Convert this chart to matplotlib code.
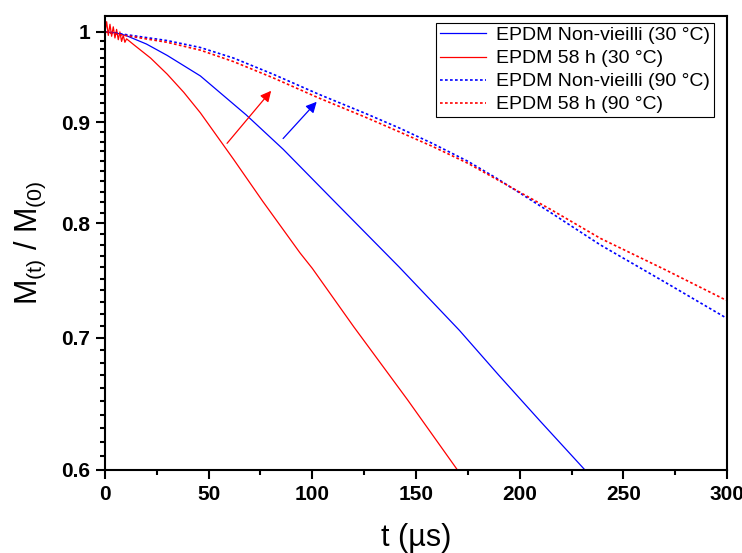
import matplotlib
matplotlib.use('Agg')
import matplotlib.pyplot as plt
from matplotlib.ticker import FixedLocator, FormatStrFormatter, MultipleLocator

plt.rcParams['font.family'] = ['Liberation Sans', 'DejaVu Sans']
plt.rcParams['mathtext.default'] = 'regular'

# EPDM Non-vieilli (30 °C)
t_ref30 = [0, 5, 10, 20, 30, 46, 68, 86, 110, 142, 171, 190, 210, 231.5]
m_ref30 = [1.000, 0.999, 0.996, 0.986, 0.973, 0.950, 0.908, 0.872, 0.822,
           0.760, 0.706, 0.670, 0.635, 0.600]

# EPDM 58 h (30 °C)
t_aged30 = [0, 0.8, 1.6, 2.4, 3.2, 4.0, 4.8, 5.6, 6.4, 7.2, 8.0, 8.8, 9.6, 10.4,
            14, 22, 30, 38, 46, 62, 76, 94, 100, 120, 146, 170]
m_aged30 = [1.000, 1.012, 0.996, 1.009, 0.995, 1.006, 0.993, 1.003, 0.991, 1.000,
            0.989, 0.996, 0.988, 0.992, 0.985, 0.970, 0.952, 0.932, 0.910, 0.862,
            0.821, 0.773, 0.759, 0.709, 0.651, 0.600]

# EPDM Non-vieilli (90 °C)
t_ref90 = [0, 7, 30, 46, 62, 81, 103, 126, 142, 158, 175, 189, 215, 239, 270, 300]
m_ref90 = [1.000, 0.998, 0.990, 0.982, 0.970, 0.952, 0.930, 0.909, 0.894, 0.878,
           0.860, 0.843, 0.810, 0.780, 0.747, 0.716]

# EPDM 58 h (90 °C)
t_aged90 = [0, 7, 30, 46, 62, 81, 103, 126, 142, 158, 175, 189, 215, 239, 270, 300]
m_aged90 = [1.000, 0.997, 0.988, 0.979, 0.966, 0.948, 0.926, 0.905, 0.890, 0.875,
            0.858, 0.842, 0.813, 0.786, 0.758, 0.731]

labels = ['EPDM Non-vieilli (30 °C)', 'EPDM 58 h (30 °C)',
          'EPDM Non-vieilli (90 °C)', 'EPDM 58 h (90 °C)']

y_major = [0.6, 0.7, 0.8, 0.9, 1.0]
y_minor = [round(0.6 + 0.01 * i, 2) for i in range(41)]

fig = plt.figure(figsize=(7.42, 5.53), dpi=100)
ax = fig.add_axes([0.1415, 0.1501, 0.8383, 0.8210])

ax.plot(t_ref30, m_ref30, color='#0000ff', lw=0.9, label=labels[0])
ax.plot(t_aged30, m_aged30, color='#ff0000', lw=0.9, label=labels[1])
ax.plot(t_ref90, m_ref90, color='#0000ff', lw=1.2, linestyle=(0, (1.6, 1.4)), label=labels[2])
ax.plot(t_aged90, m_aged90, color='#ff0000', lw=1.2, linestyle=(0, (1.6, 1.4)), label=labels[3])

# arrows showing the ageing shift
ax.annotate('', xy=(81, 0.936), xytext=(58, 0.876),
            arrowprops=dict(arrowstyle='-|>', color='#ff0000', lw=0.9, mutation_scale=16))
ax.annotate('', xy=(103, 0.924), xytext=(85, 0.881),
            arrowprops=dict(arrowstyle='-|>', color='#0000ff', lw=0.9, mutation_scale=16))

ax.set_yscale('log')
ax.set_xlim(0, 300)
ax.set_ylim(0.6, 1.0188)

ax.yaxis.set_major_locator(FixedLocator(y_major))
ax.yaxis.set_minor_locator(FixedLocator(y_minor))
ax.yaxis.set_major_formatter(FormatStrFormatter('%g'))
ax.yaxis.set_minor_formatter(plt.NullFormatter())
ax.xaxis.set_major_locator(MultipleLocator(50))
ax.xaxis.set_minor_locator(MultipleLocator(25))

for s in ax.spines.values():
    s.set_linewidth(1.5)
ax.tick_params(which='both', direction='out', width=1.5, top=False, right=False)
ax.tick_params(which='major', length=6.5, pad=4, labelsize=15)
ax.tick_params(which='minor', length=3.6)
for lab in ax.get_xticklabels() + ax.get_yticklabels():
    lab.set_fontweight('bold')

ax.set_xlabel('t (µs)', fontsize=22, labelpad=14)
ax.set_ylabel(r'M$_{(t)}$ / M$_{(0)}$', fontsize=22, labelpad=10)

leg = ax.legend(loc='upper right', bbox_to_anchor=(0.979, 0.985), borderaxespad=0,
                fontsize=14, handlelength=2.4, labelspacing=0.28, fancybox=False,
                framealpha=1, edgecolor='black', borderpad=0.2, handletextpad=0.5)
leg.get_frame().set_linewidth(0.8)

plt.savefig('out.png', dpi=100)
